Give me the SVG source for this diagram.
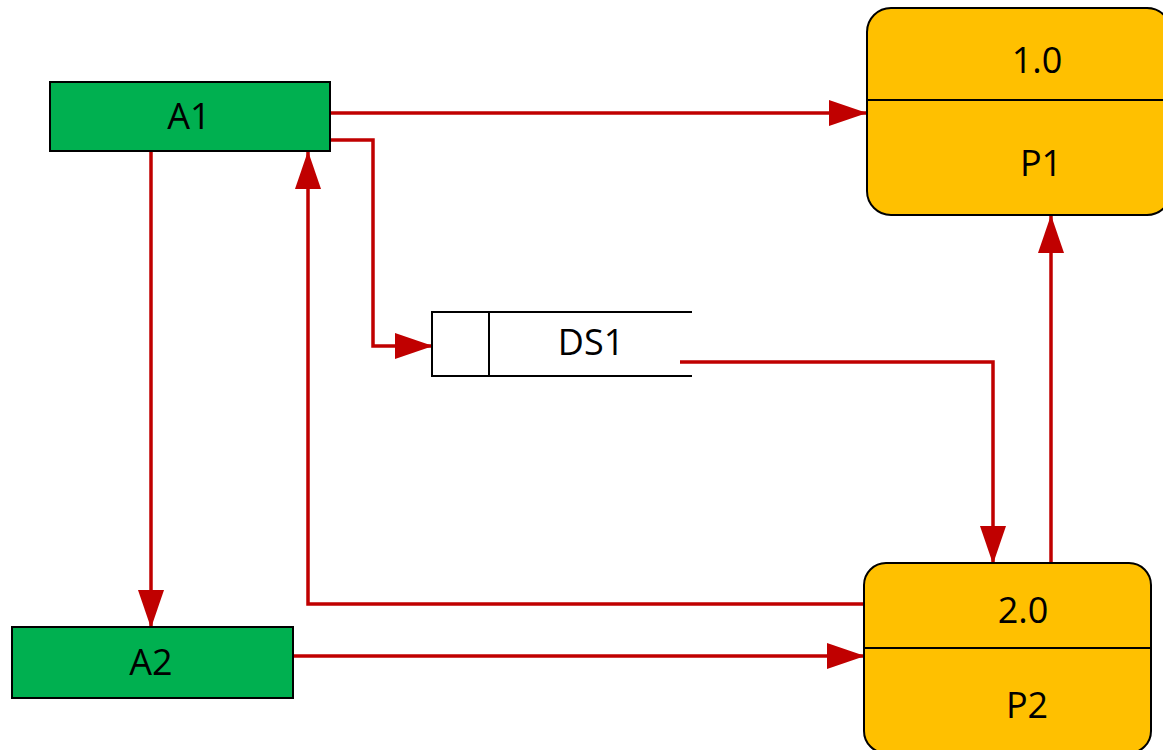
<svg xmlns="http://www.w3.org/2000/svg" width="1163" height="750" viewBox="0 0 1163 750">
  <style>
    .ext { fill: #00B050; stroke: #000; stroke-width: 2; }
    .proc { fill: #FFC000; stroke: #000; stroke-width: 2; }
    .div { stroke: #000; stroke-width: 2; fill: none; }
    .store { stroke: #000; stroke-width: 2; fill: none; }
    .lbl { font-family: "Open Sans", "Liberation Sans", sans-serif; font-size: 36px; fill: #000; text-anchor: middle; }
    .flow { fill: none; stroke: #C00000; stroke-width: 3.5; marker-end: url(#arrow); }
  </style>
  <defs>
    <marker id="arrow" markerUnits="userSpaceOnUse" markerWidth="38" markerHeight="26" refX="37" refY="13" orient="auto">
      <path d="M0,0 L38,13 L0,26 Z" fill="#C00000"/>
    </marker>
  </defs>

  <rect width="1163" height="750" fill="#fff"/>

  <!-- connectors -->
  <g id="connectors">
    <path class="flow" d="M330,113 H866"/>
    <path class="flow" d="M330,140 H373 V346 H432"/>
    <path class="flow" d="M151,151 V627"/>
    <path class="flow" d="M864,604 H308 V152"/>
    <path class="flow" d="M680,362 H993 V563"/>
    <path class="flow" d="M1051,563 V216"/>
    <path class="flow" d="M293,656 H864"/>
  </g>

  <!-- external entity A1 -->
  <g id="A1">
    <rect class="ext" x="50" y="82" width="280" height="69"/>
    <text class="lbl" x="189" y="129">A1</text>
  </g>

  <!-- external entity A2 -->
  <g id="A2">
    <rect class="ext" x="12" y="627" width="281" height="71"/>
    <text class="lbl" x="151" y="675">A2</text>
  </g>

  <!-- process 1.0 -->
  <g id="P1">
    <rect class="proc" x="867" y="8" width="304" height="207" rx="24" ry="24"/>
    <line class="div" x1="867" y1="100" x2="1171" y2="100"/>
    <text class="lbl" x="1037" y="73">1.0</text>
    <text class="lbl" x="1041" y="176">P1</text>
  </g>

  <!-- process 2.0 -->
  <g id="P2">
    <rect class="proc" x="864" y="563" width="287" height="190" rx="22" ry="22"/>
    <line class="div" x1="864" y1="648" x2="1151" y2="648"/>
    <text class="lbl" x="1023" y="623">2.0</text>
    <text class="lbl" x="1027" y="718">P2</text>
  </g>

  <!-- data store DS1 -->
  <g id="DS1">
    <path class="store" d="M692,312 H432 V376 H692"/>
    <line class="div" x1="489" y1="312" x2="489" y2="376"/>
    <text class="lbl" x="591" y="355">DS1</text>
  </g>
</svg>
